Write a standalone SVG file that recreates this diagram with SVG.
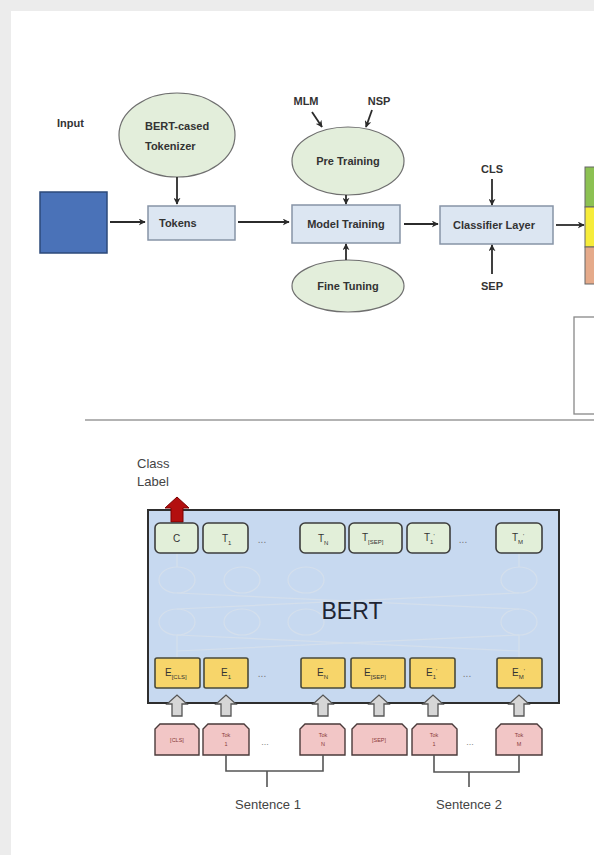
<svg xmlns="http://www.w3.org/2000/svg" width="594" height="855" viewBox="0 0 594 855">
<defs>
<marker id="ah" viewBox="0 0 10 10" refX="9" refY="5" markerWidth="7" markerHeight="7" orient="auto-start-reverse" markerUnits="userSpaceOnUse">
<path d="M0,0 L10,5 L0,10 L3,5 Z" fill="#2b2b2b"/>
</marker>
<style>
.t{font-family:"Liberation Sans",Arial,sans-serif;font-weight:bold;font-size:11px;fill:#333}
.box{fill:#dce6f2;stroke:#8794a6;stroke-width:1.5}
.ell{fill:#e3eedb;stroke:#6f6f6f;stroke-width:1.2}
.ln{stroke:#2b2b2b;stroke-width:1.8;fill:none}
.tb{fill:#e2efd9;stroke:#3d3d3d;stroke-width:1.6}
.eb{fill:#f7d56a;stroke:#4a4a3a;stroke-width:1.6}
.kb{fill:#f2c6c6;stroke:#4a3a3a;stroke-width:1.4}
.s{font-family:"Liberation Sans",Arial,sans-serif;fill:#444}
.ga{fill:#d6d6d6;stroke:#555;stroke-width:1.3}
.br{stroke:#555;stroke-width:1.6;fill:none}
.fc{fill:none;stroke:#d4dfec;stroke-width:1.2}
</style>
</defs>
<rect width="594" height="855" fill="#ececec"/>
<rect x="11" y="11" width="583" height="844" fill="#ffffff"/>

<!-- top section -->
<text class="t" x="57" y="127">Input</text>
<g id="input"><rect x="40" y="192" width="67" height="61" fill="#4a72b8" stroke="#2d4a7a" stroke-width="1.5"/></g>
<g id="tokenizer"><ellipse class="ell" cx="177" cy="135" rx="58" ry="42"/>
<text class="t" x="145" y="130">BERT-cased</text><text class="t" x="145" y="150">Tokenizer</text></g>
<g id="tokens"><rect class="box" x="148" y="206" width="87" height="34"/><text class="t" x="159" y="227">Tokens</text></g>
<g id="pretraining"><ellipse class="ell" cx="348" cy="161" rx="56" ry="34"/><text class="t" x="348" y="165" text-anchor="middle">Pre Training</text></g>
<g id="finetuning"><ellipse class="ell" cx="348" cy="286" rx="56" ry="26"/><text class="t" x="348" y="290" text-anchor="middle">Fine Tuning</text></g>
<g id="modeltraining"><rect class="box" x="292" y="205" width="108" height="38"/><text class="t" x="346" y="228" text-anchor="middle">Model Training</text></g>
<g id="classifier"><rect class="box" x="440" y="206" width="113" height="38"/><text class="t" x="494" y="229" text-anchor="middle">Classifier Layer</text></g>
<text class="t" x="306" y="105" text-anchor="middle">MLM</text>
<text class="t" x="379" y="105" text-anchor="middle">NSP</text>
<text class="t" x="492" y="173" text-anchor="middle">CLS</text>
<text class="t" x="492" y="290" text-anchor="middle">SEP</text>
<g id="output">
<rect x="585" y="167" width="12" height="40" fill="#8cc152" stroke="#666" stroke-width="1"/>
<rect x="585" y="207" width="12" height="40" fill="#f6ec3a" stroke="#666" stroke-width="1"/>
<rect x="585" y="247" width="12" height="37" fill="#e5aa8a" stroke="#666" stroke-width="1"/>
</g>
<g id="legend"><rect x="574" y="317" width="30" height="97" fill="#fff" stroke="#888" stroke-width="1.3"/></g>
<line x1="85" y1="420" x2="594" y2="420" stroke="#9a9a9a" stroke-width="1.3"/>

<g id="connectors">
<line class="ln" x1="110" y1="222" x2="145" y2="222" marker-end="url(#ah)"/>
<line class="ln" x1="177" y1="177" x2="177" y2="204" marker-end="url(#ah)"/>
<line class="ln" x1="238" y1="222" x2="289" y2="222" marker-end="url(#ah)"/>
<line class="ln" x1="312" y1="112" x2="322" y2="127" marker-end="url(#ah)"/>
<line class="ln" x1="372" y1="110" x2="366" y2="127" marker-end="url(#ah)"/>
<line class="ln" x1="346" y1="195" x2="346" y2="204" marker-end="url(#ah)"/>
<line class="ln" x1="346" y1="260" x2="346" y2="244" marker-end="url(#ah)"/>
<line class="ln" x1="404" y1="224" x2="438" y2="224" marker-end="url(#ah)"/>
<line class="ln" x1="492" y1="179" x2="492" y2="205" marker-end="url(#ah)"/>
<line class="ln" x1="492" y1="274" x2="492" y2="245" marker-end="url(#ah)"/>
<line class="ln" x1="556" y1="225" x2="584" y2="225" marker-end="url(#ah)"/>
</g>

<!-- bottom section -->
<text class="s" x="137" y="468" font-size="13">Class</text>
<text class="s" x="137" y="486" font-size="13">Label</text>
<g id="bert">
<rect x="148" y="510" width="411" height="193" fill="#c7d9f0" stroke="#2e2e2e" stroke-width="2"/>
<g>
<ellipse class="fc" cx="177" cy="580" rx="18" ry="13"/><ellipse class="fc" cx="242" cy="580" rx="18" ry="13"/><ellipse class="fc" cx="306" cy="580" rx="18" ry="13"/><ellipse class="fc" cx="519" cy="580" rx="18" ry="13"/>
<ellipse class="fc" cx="177" cy="622" rx="18" ry="13"/><ellipse class="fc" cx="242" cy="622" rx="18" ry="13"/><ellipse class="fc" cx="306" cy="622" rx="18" ry="13"/><ellipse class="fc" cx="519" cy="622" rx="18" ry="13"/>
<path class="fc" d="M177,593 L519,609 M177,609 L519,593 M177,635 L519,651 M177,651 L519,635 M177,553 L177,567 M519,553 L519,567 M177,635 L177,658 M519,635 L519,658"/>
</g>
<text x="352" y="619" font-family="Liberation Sans,Arial,sans-serif" font-size="23" fill="#1e2533" text-anchor="middle">BERT</text>
</g>
<path d="M171,522 L171,508 L165,508 L177,497 L189,508 L183,508 L183,522 Z" fill="#b30f0f" stroke="#7a0000" stroke-width="1"/>

<g id="tlayer" font-family="Liberation Sans,Arial,sans-serif" font-size="10" fill="#333">
<rect class="tb" x="155" y="523" width="43" height="30" rx="5"/><text x="176.5" y="542" text-anchor="middle">C</text>
<rect class="tb" x="203" y="523" width="45" height="30" rx="5"/><text x="222" y="542">T<tspan font-size="6" dy="3">1</tspan></text>
<text x="262" y="543" text-anchor="middle" fill="#777">...</text>
<rect class="tb" x="300" y="523" width="45" height="30" rx="5"/><text x="318" y="542">T<tspan font-size="6" dy="3">N</tspan></text>
<rect class="tb" x="349" y="523" width="53" height="30" rx="5"/><text x="362" y="541">T<tspan font-size="6" dy="3">[SEP]</tspan></text>
<rect class="tb" x="407" y="523" width="43" height="30" rx="5"/><text x="424" y="541">T<tspan font-size="6" dy="3">1</tspan><tspan font-size="6" dy="-6">'</tspan></text>
<text x="463" y="543" text-anchor="middle" fill="#777">...</text>
<rect class="tb" x="496" y="523" width="46" height="30" rx="5"/><text x="512" y="541">T<tspan font-size="6" dy="3">M</tspan><tspan font-size="6" dy="-6">'</tspan></text>
</g>

<g id="elayer" font-family="Liberation Sans,Arial,sans-serif" font-size="10" fill="#333">
<rect class="eb" x="155" y="658" width="45" height="30" rx="2"/><text x="165" y="676">E<tspan font-size="6" dy="3">[CLS]</tspan></text>
<rect class="eb" x="204" y="658" width="44" height="30" rx="2"/><text x="221" y="676">E<tspan font-size="6" dy="3">1</tspan></text>
<text x="262" y="677" text-anchor="middle" fill="#777">...</text>
<rect class="eb" x="301" y="658" width="44" height="30" rx="2"/><text x="317" y="676">E<tspan font-size="6" dy="3">N</tspan></text>
<rect class="eb" x="351" y="658" width="54" height="30" rx="2"/><text x="364" y="676">E<tspan font-size="6" dy="3">[SEP]</tspan></text>
<rect class="eb" x="410" y="658" width="45" height="30" rx="2"/><text x="426" y="676">E<tspan font-size="6" dy="3">1</tspan><tspan font-size="6" dy="-6">'</tspan></text>
<text x="467" y="677" text-anchor="middle" fill="#777">...</text>
<rect class="eb" x="497" y="658" width="45" height="30" rx="2"/><text x="512" y="676">E<tspan font-size="6" dy="3">M</tspan><tspan font-size="6" dy="-6">'</tspan></text>
</g>

<g id="uparrows">
<path class="ga" d="M172,716 L172,704 L167,704 L177,695 L187,704 L182,704 L182,716 Z"/>
<path class="ga" d="M221,716 L221,704 L216,704 L226,695 L236,704 L231,704 L231,716 Z"/>
<path class="ga" d="M318,716 L318,704 L313,704 L323,695 L333,704 L328,704 L328,716 Z"/>
<path class="ga" d="M374,716 L374,704 L369,704 L379,695 L389,704 L384,704 L384,716 Z"/>
<path class="ga" d="M428,716 L428,704 L423,704 L433,695 L443,704 L438,704 L438,716 Z"/>
<path class="ga" d="M514,716 L514,704 L509,704 L519,695 L529,704 L524,704 L524,716 Z"/>
</g>

<g id="toklayer" font-family="Liberation Sans,Arial,sans-serif" font-size="5.5" fill="#8a3a3a" text-anchor="middle">
<path class="kb" d="M155,755 L155,729 L160,724 L194,724 L199,729 L199,755 Z"/><text x="177" y="742">[CLS]</text>
<path class="kb" d="M203,755 L203,729 L208,724 L244,724 L249,729 L249,755 Z"/><text x="226" y="737">Tok</text><text x="226" y="746">1</text>
<text x="265" y="745" fill="#888" font-size="9">...</text>
<path class="kb" d="M300,755 L300,729 L305,724 L340,724 L345,729 L345,755 Z"/><text x="323" y="737">Tok</text><text x="323" y="746">N</text>
<path class="kb" d="M352,755 L352,729 L357,724 L402,724 L407,729 L407,755 Z"/><text x="379" y="742">[SEP]</text>
<path class="kb" d="M412,755 L412,729 L417,724 L452,724 L457,729 L457,755 Z"/><text x="434" y="737">Tok</text><text x="434" y="746">1</text>
<text x="470" y="745" fill="#888" font-size="9">...</text>
<path class="kb" d="M496,755 L496,729 L501,724 L537,724 L542,729 L542,755 Z"/><text x="519" y="737">Tok</text><text x="519" y="746">M</text>
</g>

<g id="brackets">
<path class="br" d="M226,755 L226,771 L323,771 L323,755 M267,771 L267,787"/>
<path class="br" d="M434,755 L434,772 L519,772 L519,755 M469,772 L469,787"/>
</g>
<text class="s" x="268" y="809" font-size="13" text-anchor="middle">Sentence 1</text>
<text class="s" x="469" y="809" font-size="13" text-anchor="middle">Sentence 2</text>
</svg>
